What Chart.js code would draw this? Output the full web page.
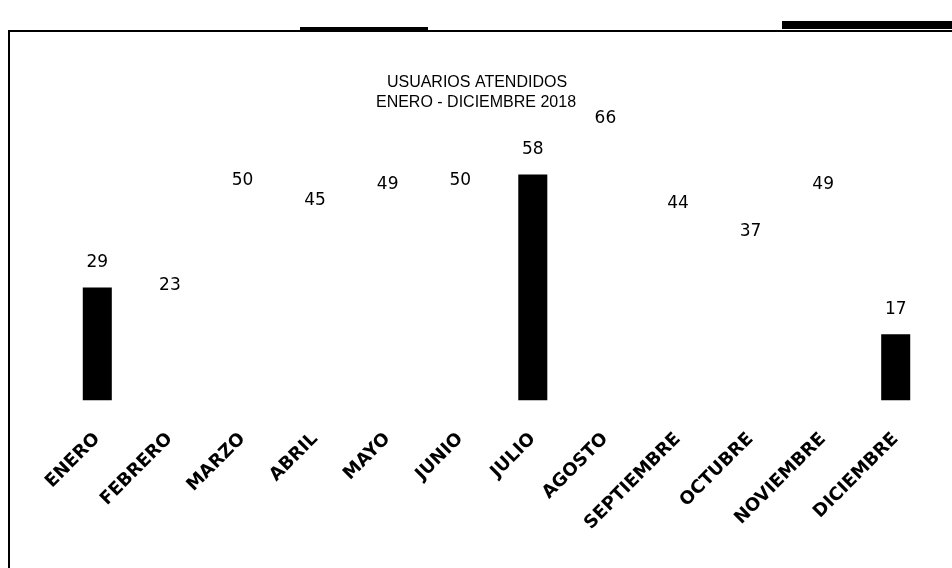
<!DOCTYPE html>
<html>
<head>
<meta charset="utf-8">
<script src="https://cdn.jsdelivr.net/npm/chart.js@4"></script>
<style>
  html, body { margin: 0; padding: 0; background: #fff; }
  #wrap { width: 952px; height: 568px; }
</style>
</head>
<body>
<div id="wrap"><canvas id="usuariosChart" width="952" height="568"></canvas></div>
<script>
// Datos
const meses = ['ENERO', 'FEBRERO', 'MARZO', 'ABRIL', 'MAYO', 'JUNIO', 'JULIO',
    'AGOSTO', 'SEPTIEMBRE', 'OCTUBRE', 'NOVIEMBRE', 'DICIEMBRE'];
const usuarios = [29, 23, 50, 45, 49, 50, 58, 66, 44, 37, 49, 17];
const titulo = ['USUARIOS ATENDIDOS', 'ENERO - DICIEMBRE 2018'];

// solo algunas barras salen negras en el escaneo, el resto quedan en blanco
const barColors = usuarios.map((v, i) => (i === 0 || i === 6 || i === 11) ? '#000' : '#fff');

// etiquetas de valor encima de cada barra
const valueLabels = {
    id: 'valueLabels',
    afterDatasetsDraw(chart) {
        const ctx = chart.ctx;
        const meta = chart.getDatasetMeta(0);
        ctx.save();
        ctx.font = '17px "DejaVu Sans"';
        ctx.fillStyle = '#000';
        ctx.textAlign = 'center';
        ctx.textBaseline = 'middle';
        meta.data.forEach((bar, i) => {
            ctx.fillText(String(usuarios[i]), bar.x, bar.y - 25);
        });
        ctx.restore();
    }
};

// marco del recuadro y titulo centrado en la hoja
const frame = {
    id: 'frame',
    beforeDraw(chart) {
        const ctx = chart.ctx;
        ctx.save();
        ctx.fillStyle = '#fff';
        ctx.fillRect(0, 0, chart.width, chart.height);
        ctx.strokeStyle = '#000';
        ctx.lineWidth = 2;
        ctx.beginPath();
        ctx.moveTo(9, chart.height);
        ctx.lineTo(9, 31);
        ctx.lineTo(chart.width, 31);
        ctx.stroke();
        ctx.fillStyle = '#000';
        ctx.fillRect(300, 27, 128, 4);
        ctx.fillRect(782, 21, 170, 8);

        ctx.font = '16px "Liberation Sans"';
        ctx.textAlign = 'center';
        ctx.textBaseline = 'middle';
        ctx.fillText(titulo[0], 477, 83);
        ctx.fillText(titulo[1], 476, 103);
        ctx.restore();
    }
};

const ctx = document.getElementById('usuariosChart').getContext('2d');
new Chart(ctx, {
    type: 'bar',
    data: {
        labels: meses,
        datasets: [{
            label: 'Usuarios',
            data: usuarios,
            backgroundColor: barColors,
            borderWidth: 0,
            barPercentage: 0.4,
            categoryPercentage: 1
        }]
    },
    options: {
        responsive: false,
        animation: false,
        layout: { padding: { top: 112, left: 61, right: 20, bottom: 14 } },
        plugins: {
            legend: { display: false },
            tooltip: { enabled: false },
            title: { display: false }
        },
        scales: {
            y: {
                display: false,
                min: 0,
                max: 74
            },
            x: {
                grid: { display: false },
                border: { display: false },
                ticks: {
                    color: '#000',
                    font: { family: 'DejaVu Sans', size: 18, weight: 'bold' },
                    minRotation: 45,
                    maxRotation: 45,
                    padding: 20,
                    autoSkip: false
                }
            }
        }
    },
    plugins: [frame, valueLabels]
});
</script>
</body>
</html>
